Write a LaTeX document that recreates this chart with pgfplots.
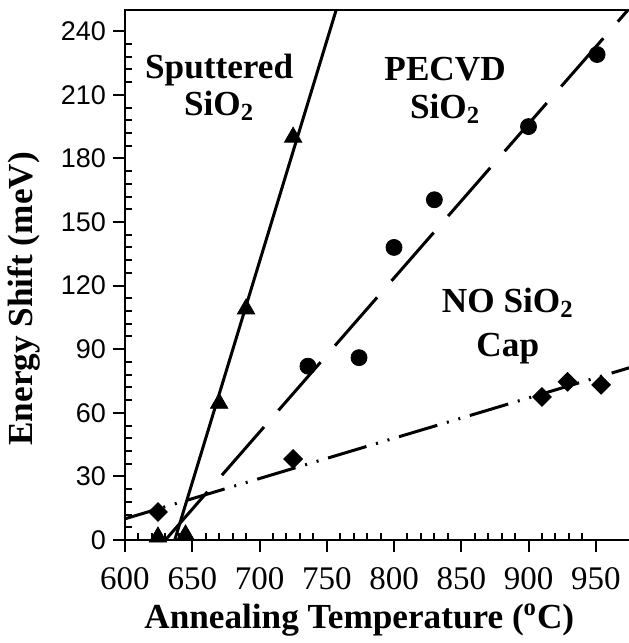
\documentclass[border=0pt]{standalone}
\usepackage{fontspec}
\setmainfont{Liberation Serif}
\newfontfamily\arialfont{Liberation Sans}
\usepackage{pgfplots}
\pgfplotsset{compat=1.18}
\begin{document}
\begin{tikzpicture}
\useasboundingbox (-62.5pt,-51.5pt) rectangle (251.5pt,270pt);
\begin{axis}[
  at={(0,0)}, anchor=south west,
  scale only axis, width=253pt, height=265pt,
  xmin=600, xmax=976.2, ymin=0, ymax=250,
  axis line style={line width=1pt},
  tick pos=left,
  xtick={600,650,...,950}, ytick={0,30,...,240},
  minor x tick num=4, minor y tick num=4,
  tick align=outside, major tick length=6pt, minor tick length=3.3pt,
  tick style={black, line width=1pt},
  every minor x tick/.append style={yshift=3.3pt},
  every minor y tick/.append style={xshift=3.3pt},
  /pgf/number format/assume math mode=true,
  xticklabel style={font=\fontsize{16.5}{16.5}\selectfont, yshift=-4pt},
  yticklabel style={font=\arialfont\fontsize{13.5}{14}\selectfont},
  xlabel={\textbf{Annealing Temperature (\textsuperscript{o}C)}},
  ylabel={\textbf{Energy Shift (meV)}},
  label style={font=\fontsize{17.6}{17.6}\selectfont},
  xlabel style={at={(axis description cs:0.463,-0.151)}, anchor=center},
  ylabel style={at={(axis description cs:-0.199,0.455)}, anchor=center},
  clip=true,
]
\addplot[black, line width=1.5pt] coordinates {(637,0) (757,250)};
\addplot[black, line width=1.5pt, dash pattern=on 32pt off 11pt] coordinates {(630,0) (980,254.4)};
\addplot[black, line width=1.5pt, dash pattern=on 20pt off 5pt on 1pt off 5pt on 1pt off 5pt, dash phase=5pt] coordinates {(600,10) (980,82.2)};
\addplot[only marks, mark=triangle*, mark size=5pt, black] coordinates {(624.5,1.4)(645,2.4)(670,64.5)(690,109)(725,190)};
\addplot[only marks, mark=*, mark size=4pt, black] coordinates {(736,82)(774,86)(800,138)(830,160.5)(900,195)(951,229)};
\addplot[only marks, mark=square*, mark size=3.3pt, black, mark options={rotate=45}] coordinates {(624.5,13.2)(725,38.2)(910,67.5)(929,74.6)(954,73.2)};
\node[font=\bfseries\fontsize{17.6}{18.5}\selectfont, align=center] at (axis cs:670,213.5) {Sputtered\\SiO\textsubscript{2}};
\node[font=\bfseries\fontsize{17.6}{19}\selectfont, align=center] at (axis cs:838,212) {PECVD\\SiO\textsubscript{2}};
\node[font=\bfseries\fontsize{17.6}{22}\selectfont, align=center] at (axis cs:884.6,101) {NO SiO\textsubscript{2}\\Cap};
\end{axis}
\end{tikzpicture}
\end{document}
